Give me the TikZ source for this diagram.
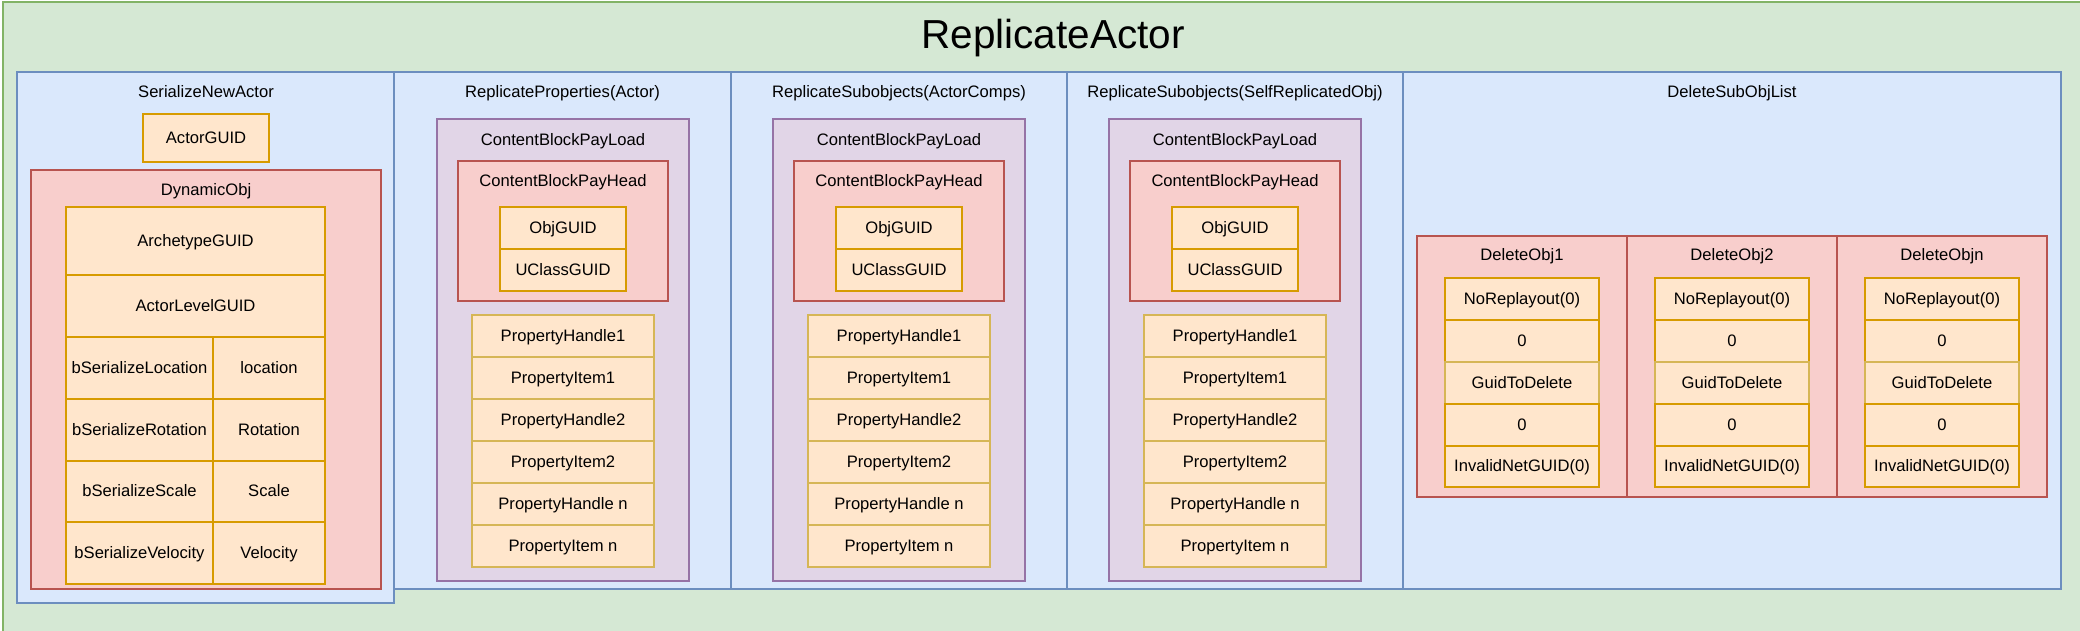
\documentclass[tikz,border=0pt]{standalone}
\usepackage{fontspec}
\setmainfont{Liberation Sans}
\definecolor{gfill}{HTML}{D5E8D4}\definecolor{gline}{HTML}{82B366}
\definecolor{bfill}{HTML}{DAE8FC}\definecolor{bline}{HTML}{6C8EBF}
\definecolor{rfill}{HTML}{F8CECC}\definecolor{rline}{HTML}{B85450}
\definecolor{pfill}{HTML}{E1D5E7}\definecolor{pline}{HTML}{9673A6}
\definecolor{ofill}{HTML}{FFE6CC}\definecolor{oline}{HTML}{D79B00}
\definecolor{yline}{HTML}{D6B656}
% \mkcell{style}{name}{x1}{y1}{x2}{y2}{text}
\newcommand\mkcell[7]{\node[#1, anchor=north west, minimum width={(#5)-(#3)}, minimum height={(#6)-(#4)}] (#2) at (#3,#4) {#7};}
\begin{document}
\begin{tikzpicture}[x=1pt,y=-1pt,
  every node/.style={font=\fontsize{16.6}{20}\selectfont, inner sep=0pt, outer sep=0pt, text height=12pt, text depth=2pt},
  frame/.style={draw, line width=1.3pt},
  greenbox/.style={frame, fill=gfill, draw=gline},
  bluebox/.style={frame, fill=bfill, draw=bline},
  redbox/.style={frame, fill=rfill, draw=rline},
  purplebox/.style={frame, fill=pfill, draw=pline},
  orangebox/.style={frame, fill=ofill, draw=oline},
  propbox/.style={frame, fill=ofill, draw=yline},
  lbl/.style={anchor=base}]
\useasboundingbox (0,0) rectangle (2080,630);
\mkcell{greenbox}{outer}{3}{2}{2095}{645}{}
\node[anchor=base, font=\fontsize{40.5}{48}\selectfont] (title) at (1053,48) {ReplicateActor};

% blue columns
\mkcell{bluebox}{b1}{17}{72}{394}{603}{}
\mkcell{bluebox}{b2}{394}{72}{731}{589}{}
\mkcell{bluebox}{b3}{731}{72}{1067}{589}{}
\mkcell{bluebox}{b4}{1067}{72}{1403}{589}{}
\mkcell{bluebox}{b5}{1403}{72}{2061}{589}{}
\node[lbl] (l1) at (206,97) {SerializeNewActor};
\node[lbl] (l2) at (562.5,97) {ReplicateProperties(Actor)};
\node[lbl] (l3) at (899,97) {ReplicateSubobjects(ActorComps)};
\node[lbl] (l4) at (1235,97) {ReplicateSubobjects(SelfReplicatedObj)};
\node[lbl] (l5) at (1732,97) {DeleteSubObjList};

% SerializeNewActor
\mkcell{orangebox}{actorguid}{143}{114}{269}{162}{ActorGUID}
\mkcell{redbox}{dyn}{31}{170}{381}{589}{}
\node[lbl] (dynl) at (206,195) {DynamicObj};
\mkcell{orangebox}{arch}{66}{207}{325}{275}{ArchetypeGUID}
\mkcell{orangebox}{alvl}{66}{275}{325}{337}{ActorLevelGUID}
\mkcell{orangebox}{bloc}{66}{337}{213}{399}{bSerializeLocation}
\mkcell{orangebox}{vloc}{213}{337}{325}{399}{location}
\mkcell{orangebox}{brot}{66}{399}{213}{461}{bSerializeRotation}
\mkcell{orangebox}{vrot}{213}{399}{325}{461}{Rotation}
\mkcell{orangebox}{bsca}{66}{461}{213}{522}{bSerializeScale}
\mkcell{orangebox}{vsca}{213}{461}{325}{522}{Scale}
\mkcell{orangebox}{bvel}{66}{522}{213}{584}{bSerializeVelocity}
\mkcell{orangebox}{vvel}{213}{522}{325}{584}{Velocity}

% ContentBlockPayLoad columns
\foreach \k in {0,1,2}{
  \pgfmathsetmacro\o{336*\k}
  \mkcell{purplebox}{pl\k}{437+\o}{119}{689+\o}{581}{}
  \node[lbl] (pll\k) at (563+\o,145) {ContentBlockPayLoad};
  \mkcell{redbox}{ph\k}{458+\o}{161}{668+\o}{301}{}
  \node[lbl] (phl\k) at (563+\o,186) {ContentBlockPayHead};
  \mkcell{orangebox}{og\k}{500+\o}{207}{626+\o}{249}{ObjGUID}
  \mkcell{orangebox}{ug\k}{500+\o}{249}{626+\o}{291}{UClassGUID}
  \mkcell{propbox}{pa\k}{472+\o}{315}{654+\o}{357}{PropertyHandle1}
  \mkcell{propbox}{pb\k}{472+\o}{357}{654+\o}{399}{PropertyItem1}
  \mkcell{propbox}{pc\k}{472+\o}{399}{654+\o}{441}{PropertyHandle2}
  \mkcell{propbox}{pd\k}{472+\o}{441}{654+\o}{483}{PropertyItem2}
  \mkcell{propbox}{pe\k}{472+\o}{483}{654+\o}{525}{PropertyHandle n}
  \mkcell{propbox}{pf\k}{472+\o}{525}{654+\o}{567}{PropertyItem n}
}

% DeleteSubObjList
\foreach \k/\t in {0/DeleteObj1,1/DeleteObj2,2/DeleteObjn}{
  \pgfmathsetmacro\o{210*\k}
  \mkcell{redbox}{d\k}{1417+\o}{236}{1627+\o}{497}{}
  \node[lbl] (dl\k) at (1522+\o,260) {\t};
  \mkcell{orangebox}{da\k}{1445+\o}{278}{1599+\o}{320}{NoReplayout(0)}
  \mkcell{orangebox}{db\k}{1445+\o}{320}{1599+\o}{362}{0}
  \mkcell{propbox}{dc\k}{1445+\o}{362}{1599+\o}{404}{GuidToDelete}
  \mkcell{orangebox}{dd\k}{1445+\o}{404}{1599+\o}{446}{0}
  \mkcell{orangebox}{de\k}{1445+\o}{446}{1599+\o}{487}{InvalidNetGUID(0)}
}
\end{tikzpicture}
\end{document}
